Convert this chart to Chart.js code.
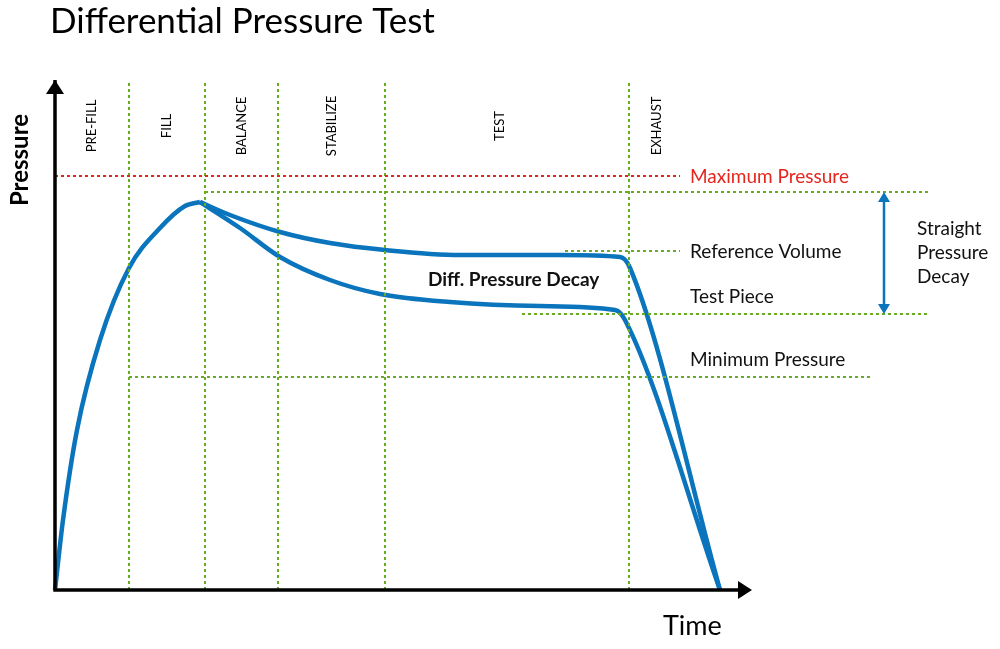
<!DOCTYPE html>
<html>
<head>
<meta charset="utf-8">
<script src="https://cdn.jsdelivr.net/npm/chart.js@4/dist/chart.umd.min.js"></script>
<style>
  body { margin: 0; background: #fff; }
  #wrap { width: 1000px; height: 649px; }
</style>
</head>
<body>
<div id="wrap"><canvas id="c" width="1000" height="649"></canvas></div>
<script>
// time / pressure readings (arbitrary units)
const fillCurve = [[0,0],[8,70],[22,160],[45,250],[74,322],[105,362],[130,384],[145,388]];
const refCurve = [[145,388],[175,375],[225,358],[275,347],[330,340],[405,335],[505,335],[565,333],[575,322],[665,0]];
const testCurve = [[145,388],[185,362],[225,333],[275,310],[325,296],[395,288],[485,284],[560,280],[570,270],[665,0]];

const phaseNames = ['PRE-FILL', 'FILL', 'BALANCE', 'STABILIZE', 'TEST', 'EXHAUST'];
const phaseBounds = [0, 74, 150, 223, 330, 574, 665];

const maxPressure = 414;
const topLevel = 398;
const refLevel = 339;
const testLevel = 276;
const minPressure = 213;

const blue = '#0a74bc';
const green = '#66ad22';
const toPts = a => a.map(p => ({ x: p[0], y: p[1] }));
const dotted = (pts, color) => ({
  data: toPts(pts), borderColor: color, borderWidth: 2, borderDash: [3, 3],
  pointRadius: 0, tension: 0, fill: false
});
const curve = pts => ({
  data: toPts(pts), borderColor: blue, borderWidth: 4.5,
  pointRadius: 0, cubicInterpolationMode: 'monotone', fill: false
});

const datasets = [
  dotted([[0, maxPressure], [625, maxPressure]], '#e5261f'),
  dotted([[150, topLevel], [875, topLevel]], green),
  dotted([[510, refLevel], [625, refLevel]], green),
  dotted([[467, testLevel], [875, testLevel]], green),
  dotted([[74, minPressure], [815, minPressure]], green)
];
phaseBounds.slice(1, 6).forEach(b => datasets.push(dotted([[b, 0], [b, 510]], green)));
datasets.push(curve(fillCurve), curve(refCurve), curve(testCurve));

const overlay = {
  id: 'overlay',
  afterDraw(chart) {
    const { ctx, scales: { x, y } } = chart;
    ctx.save();
    ctx.fillStyle = '#000'; ctx.strokeStyle = '#000';
    // axes with arrows
    ctx.lineWidth = 3.5;
    ctx.beginPath();
    ctx.moveTo(x.getPixelForValue(0), y.getPixelForValue(510));
    ctx.lineTo(x.getPixelForValue(0), y.getPixelForValue(0));
    ctx.lineTo(x.getPixelForValue(685), y.getPixelForValue(0));
    ctx.stroke();
    const x0 = x.getPixelForValue(0), y0 = y.getPixelForValue(0);
    ctx.beginPath(); ctx.moveTo(x0, 80); ctx.lineTo(x0 - 9, 94); ctx.lineTo(x0 + 9, 94); ctx.fill();
    ctx.beginPath(); ctx.moveTo(752, y0); ctx.lineTo(738, y0 - 9); ctx.lineTo(738, y0 + 9); ctx.fill();

    ctx.textBaseline = 'middle';
    ctx.font = '35px Lato';
    ctx.textAlign = 'left';
    ctx.fillText('Differential Pressure Test', 50, 22);
    ctx.font = '27px Lato';
    ctx.fillText('Time', 663, 626);
    ctx.save();
    ctx.translate(20, 160); ctx.rotate(-Math.PI / 2);
    ctx.font = 'bold 24px Lato'; ctx.textAlign = 'center';
    ctx.fillText('Pressure', 0, 0);
    ctx.restore();

    // phase labels
    ctx.font = '13px Lato';
    phaseNames.forEach((n, i) => {
      let cx = (phaseBounds[i] + phaseBounds[i + 1]) / 2;
      if (i === 4) cx = 445;
      if (i === 5) cx = 602;
      ctx.save();
      ctx.translate(x.getPixelForValue(cx), 126); ctx.rotate(-Math.PI / 2);
      ctx.textAlign = 'center'; ctx.fillText(n, 0, 0);
      ctx.restore();
    });

    ctx.font = '19px Lato'; ctx.textAlign = 'left';
    ctx.fillStyle = '#e5261f';
    ctx.fillText('Maximum Pressure', 690, 177);
    ctx.fillStyle = '#111';
    ctx.fillText('Reference Volume', 690, 252);
    ctx.fillText('Test Piece', 690, 297);
    ctx.fillText('Minimum Pressure', 690, 360);
    ctx.fillText('Straight', 917, 229);
    ctx.fillText('Pressure', 917, 253);
    ctx.fillText('Decay', 917, 277);
    ctx.font = 'bold 19px Lato';
    ctx.fillText('Diff. Pressure Decay', 428, 280);

    // double arrow
    const ax = 884, ya = y.getPixelForValue(topLevel), yb = y.getPixelForValue(testLevel);
    ctx.strokeStyle = blue; ctx.fillStyle = blue; ctx.lineWidth = 2.5;
    ctx.beginPath(); ctx.moveTo(ax, ya + 8); ctx.lineTo(ax, yb - 8); ctx.stroke();
    ctx.beginPath(); ctx.moveTo(ax, ya); ctx.lineTo(ax - 6, ya + 10); ctx.lineTo(ax + 6, ya + 10); ctx.fill();
    ctx.beginPath(); ctx.moveTo(ax, yb); ctx.lineTo(ax - 6, yb - 10); ctx.lineTo(ax + 6, yb - 10); ctx.fill();
    ctx.restore();
  }
};

new Chart(document.getElementById('c'), {
  type: 'line',
  data: { datasets },
  options: {
    responsive: false,
    animation: false,
    layout: { padding: { left: 55, right: 0, top: 85, bottom: 59 } },
    plugins: { legend: { display: false }, tooltip: { enabled: false } },
    datasets: { line: { clip: false } },
    scales: {
      x: { type: 'linear', display: false, min: 0, max: 945 },
      y: { type: 'linear', display: false, min: 0, max: 505 }
    }
  },
  plugins: [overlay]
});
</script>
</body>
</html>
